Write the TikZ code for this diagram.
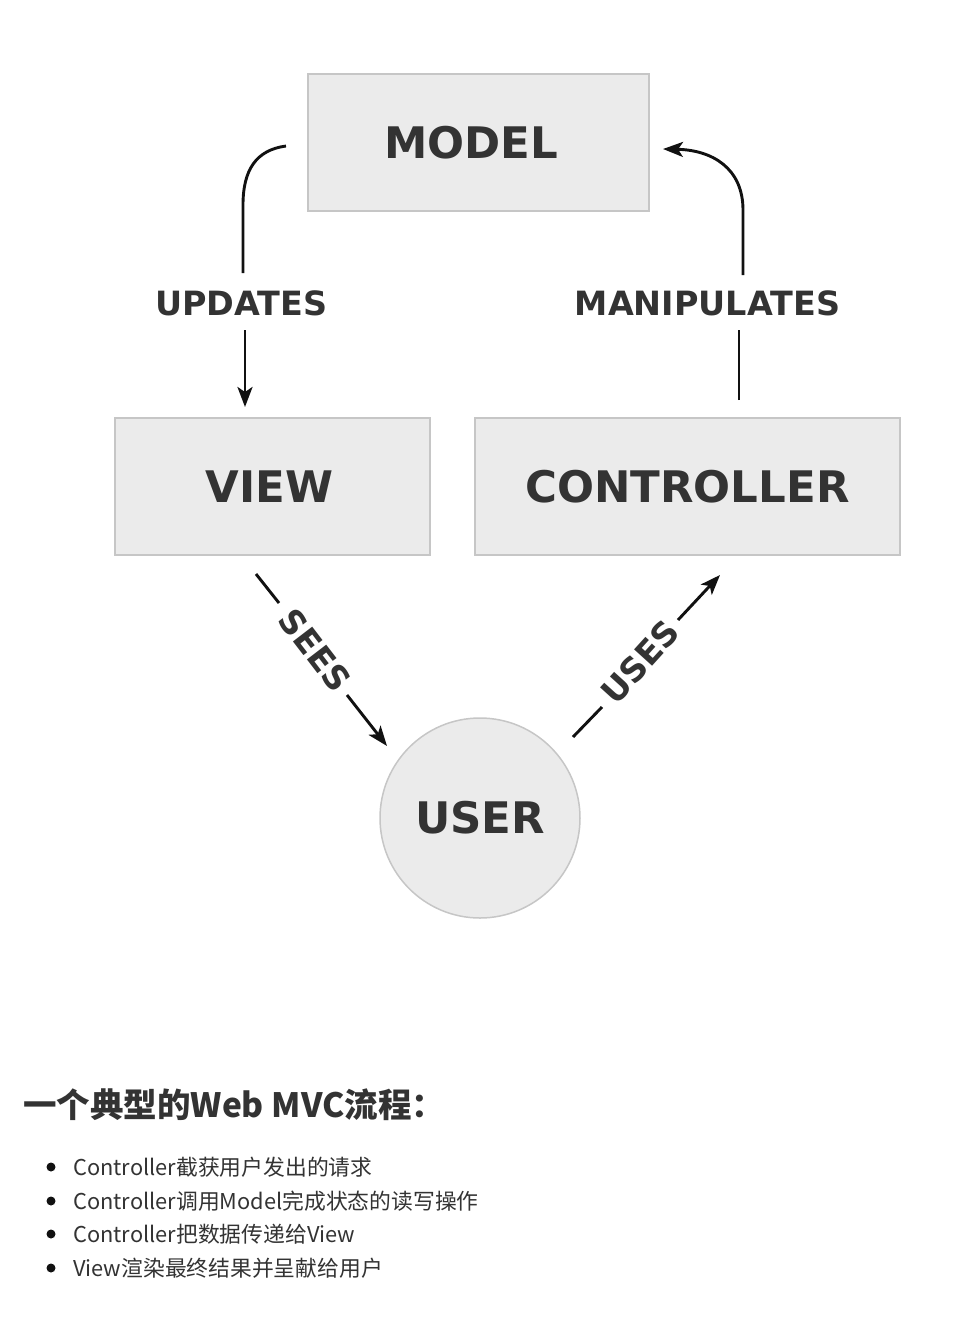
\documentclass[tikz,border=0pt]{standalone}
\usepackage{fontspec}
\newfontfamily\dv{DejaVu Sans}
\newfontfamily\cjk{Noto Sans CJK SC}
\usetikzlibrary{arrows.meta}
\definecolor{boxfill}{HTML}{EBEBEB}
\definecolor{boxline}{HTML}{C6C6C6}
\definecolor{txt}{HTML}{333333}
\definecolor{ink}{HTML}{111111}
\begin{document}
\begin{tikzpicture}[x=1pt,y=-1pt,
  box/.style={draw=boxline,fill=boxfill,line width=1.5pt,inner sep=0pt,
    font=\dv\bfseries\fontsize{43.5}{50}\selectfont,text=txt},
  boxtxt/.style={inner sep=0pt,font=\dv\bfseries\fontsize{43.5}{50}\selectfont,text=txt},
  lbl/.style={font=\dv\bfseries\fontsize{33.4}{38}\selectfont,text=txt,inner sep=0pt},
  conn/.style={line width=2.9pt,draw=ink},
  tip/.style={-{Stealth[length=20pt,width=15pt,inset=5pt]}},
  bul/.style={circle,fill=ink,inner sep=0pt,minimum size=9pt},
  itm/.style={anchor=west,inner sep=0pt,text=txt,font=\cjk\fontsize{21.8}{26}\selectfont}]
\useasboundingbox (0,0) rectangle (964,1342);
% boxes
\node[box,minimum width=341pt,minimum height=137pt] (model) at (478.5,142.5) {};
\node[boxtxt] (modeltxt) at (471,142.5) {MODEL};
\node[box,minimum width=315pt,minimum height=137pt] (view) at (272.5,486.5) {};
\node[boxtxt] (viewtxt) at (269.5,486.5) {VIEW};
\node[box,minimum width=425pt,minimum height=137pt] (ctrl) at (687.5,486.5) {CONTROLLER};
\node[box,circle,minimum size=200pt] (user) at (480,818) {USER};
% labels
\node[lbl] (upd) at (241.5,303) {UPDATES};
\node[lbl] (man) at (707.5,303) {MANIPULATES};
\node[lbl,rotate=-52.5] (sees) at (315,650) {SEES};
\node[lbl,rotate=47.8] (uses) at (640,662) {USES};
% connector end points
\coordinate (u1) at (286,146);
\coordinate (u2) at (243,273);
\coordinate (u3) at (245,330);
\coordinate (u4) at (245,407);
\coordinate (m1) at (739,400);
\coordinate (m2) at (739,330);
\coordinate (m3) at (743,275);
\coordinate (m4) at (663,149);
\coordinate (s1) at (256,574);
\coordinate (s2) at (279,603);
\coordinate (s3) at (347,695);
\coordinate (s4) at (387,746);
\coordinate (t1) at (573,737);
\coordinate (t2) at (602,707);
\coordinate (t3) at (678,620);
\coordinate (t4) at (720,575);
% connectors
\draw[conn] (u1) .. controls (256,150) and (243,170) .. (243,205) -- (u2);
\draw[conn,tip] (u3) -- (u4);
\draw[conn] (m1) -- (m2);
\draw[conn,tip] (m3) -- (743,210) .. controls (743,168) and (712,150) .. (m4);
\draw[conn] (s1) -- (s2);
\draw[conn,tip] (s3) -- (s4);
\draw[conn] (t1) -- (t2);
\draw[conn,tip] (t3) -- (t4);
% text below
\node[anchor=west,inner sep=0pt,text=txt,font=\cjk\bfseries\fontsize{33.5}{40}\selectfont] (head) at (23,1105) {一个典型的Web MVC流程：};
\node[bul] (b1) at (51,1167) {};
\node[bul] (b2) at (51,1201) {};
\node[bul] (b3) at (51,1234) {};
\node[bul] (b4) at (51,1268) {};
\node[itm] (i1) at (73,1167) {Controller截获用户发出的请求};
\node[itm] (i2) at (73,1201) {Controller调用Model完成状态的读写操作};
\node[itm] (i3) at (73,1234) {Controller把数据传递给View};
\node[itm] (i4) at (73,1268) {View渲染最终结果并呈献给用户};
\end{tikzpicture}
\end{document}
